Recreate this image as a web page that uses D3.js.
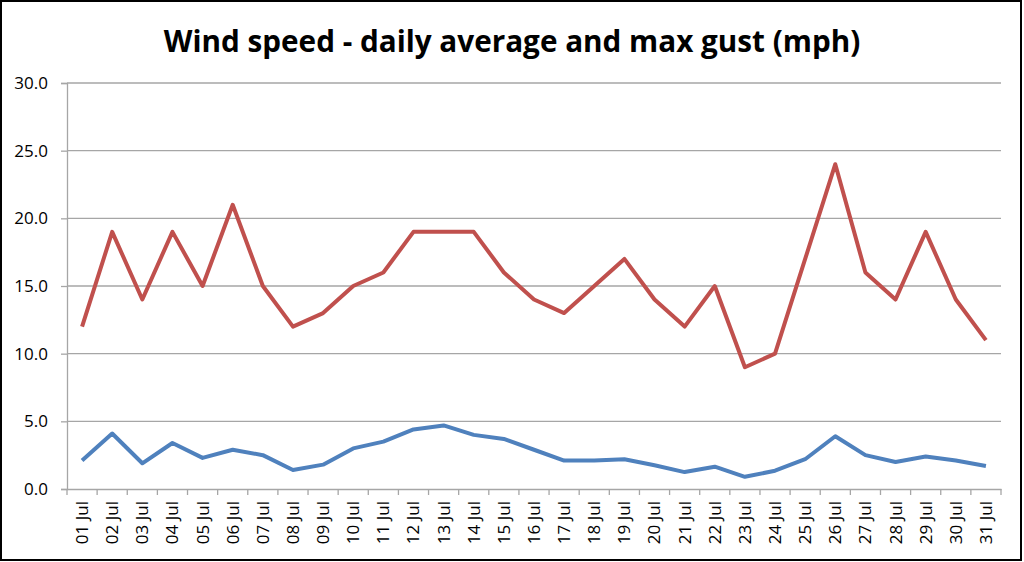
<!DOCTYPE html>
<html><head><meta charset="utf-8">
<script src="https://cdn.jsdelivr.net/npm/d3@7"></script>
<style>body{margin:0;background:#fff}svg{display:block}</style>
</head><body>
<svg id="c" width="1024" height="562"></svg>
<script>
const days = ["01 Jul","02 Jul","03 Jul","04 Jul","05 Jul","06 Jul","07 Jul","08 Jul","09 Jul","10 Jul","11 Jul","12 Jul","13 Jul","14 Jul","15 Jul","16 Jul","17 Jul","18 Jul","19 Jul","20 Jul","21 Jul","22 Jul","23 Jul","24 Jul","25 Jul","26 Jul","27 Jul","28 Jul","29 Jul","30 Jul","31 Jul"];
const maxGust = [12,19,14,19,15,21,15,12,13,15,16,19,19,19,16,14,13,15,17,14,12,15,9,10,17,24,16,14,19,14,11];
const avgSpeed = [2.1,4.1,1.9,3.4,2.3,2.9,2.5,1.4,1.8,3.0,3.5,4.4,4.7,4.0,3.7,2.9,2.1,2.1,2.2,1.75,1.25,1.65,0.9,1.35,2.2,3.9,2.5,2.0,2.4,2.1,1.7];
const yTicks = [0,5,10,15,20,25,30];
const title = "Wind speed - daily average and max gust (mph)";

const svg = d3.select("#c");
const m = {l:67, r:1001, t:83, b:489};
const x = d3.scaleBand().domain(days).range([m.l, m.r]);
const y = d3.scaleLinear().domain([0,30]).range([m.b, m.t]);
const font = "'Open Sans', sans-serif";

svg.append("rect").attr("x",1).attr("y",1).attr("width",1020).attr("height",559)
  .attr("fill","#fff").attr("stroke","#000").attr("stroke-width",2);

const t = svg.append("text").attr("x",512).attr("y",52).attr("text-anchor","middle")
  .attr("font-family",font).attr("font-weight","bold").attr("font-size",30).attr("fill","#000").text(title);
const w = t.node().getComputedTextLength();
t.attr("font-size", 30*697/w);

// gridlines
svg.append("g").selectAll("line").data(yTicks.filter(d=>d>0)).join("line")
  .attr("x1",m.l).attr("x2",m.r).attr("y1",d=>y(d)).attr("y2",d=>y(d))
  .attr("stroke","#a6a6a6").attr("stroke-width",1.3);

const yAxis = svg.append("g").attr("transform",`translate(${m.l},0)`)
  .call(d3.axisLeft(y).tickValues(yTicks).tickFormat(d3.format(".1f")).tickSize(6).tickPadding(13));
yAxis.select(".domain").attr("stroke","#a6a6a6").attr("stroke-width",1.3);
yAxis.selectAll(".tick line").attr("stroke","#a6a6a6").attr("stroke-width",1.3);
yAxis.selectAll("text").attr("font-family",font).attr("font-size",17).attr("fill","#000");

const xAxis = svg.append("g").attr("transform",`translate(0,${m.b})`)
  .call(d3.axisBottom(x).tickSize(0).tickSizeOuter(0));
xAxis.select(".domain").attr("stroke","#a6a6a6").attr("stroke-width",1.3);
xAxis.selectAll(".tick text").attr("font-family",font).attr("font-size",17).attr("fill","#000")
  .attr("transform","rotate(-90)").attr("text-anchor","end").attr("dy","0.35em").attr("x",-12).attr("y",0);
// category boundary ticks
const bounds = days.map(d=>x(d)).concat([m.r]);
svg.append("g").selectAll("line").data(bounds).join("line")
  .attr("x1",d=>d).attr("x2",d=>d).attr("y1",m.b).attr("y2",m.b+6)
  .attr("stroke","#a6a6a6").attr("stroke-width",1.3);

const cx = d => x(d) + x.bandwidth()/2;
const line = d3.line().x((d,i)=>cx(days[i])).y(d=>y(d));
svg.append("path").datum(maxGust).attr("d",line).attr("fill","none")
  .attr("stroke","#C0504D").attr("stroke-width",4).attr("stroke-linejoin","round");
svg.append("path").datum(avgSpeed).attr("d",line).attr("fill","none")
  .attr("stroke","#4F81BD").attr("stroke-width",4).attr("stroke-linejoin","round");
</script>
</body></html>
